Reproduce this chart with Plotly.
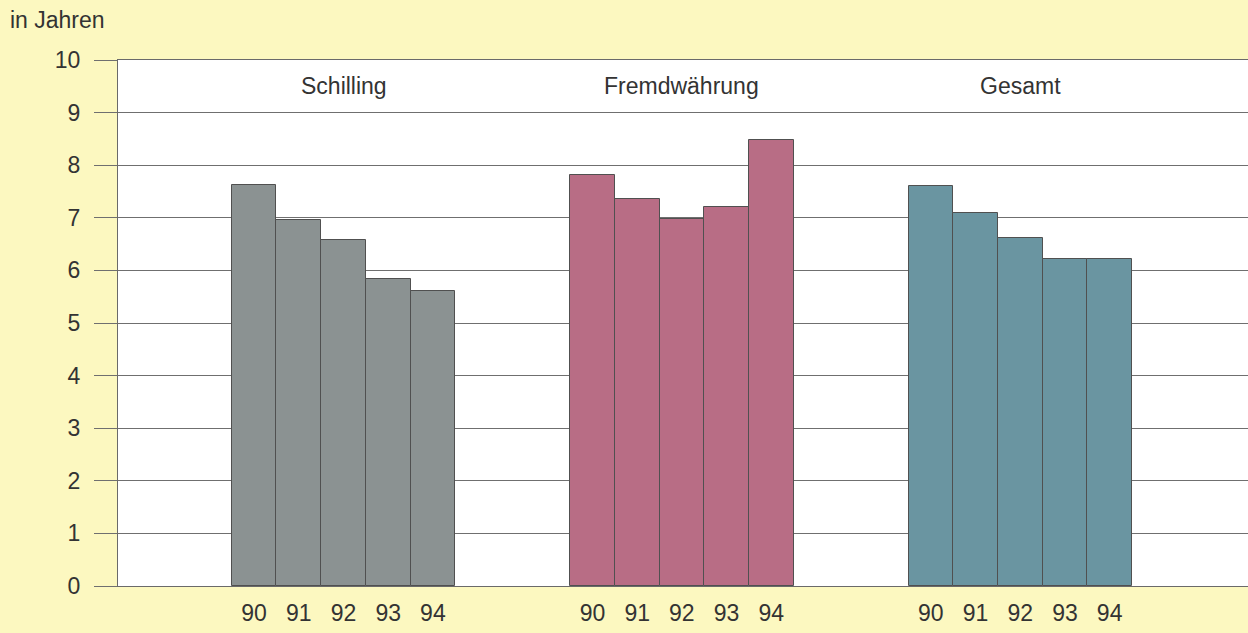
import plotly.graph_objects as go

# Average maturity (in years) by currency, 1990-1994
years = ["90", "91", "92", "93", "94"]
groups = ["Schilling", "Fremdwährung", "Gesamt"]
schilling = [7.62, 6.96, 6.58, 5.84, 5.61]
fremdwaehrung = [7.81, 7.36, 6.98, 7.21, 8.48]
gesamt = [7.61, 7.10, 6.61, 6.22, 6.22]
y_ticks = list(range(0, 11))

series = [schilling, fremdwaehrung, gesamt]
colors = ["#8b9292", "#b86d85", "#6a95a1"]
text_color = "#333333"
font_size = 23

# category axis: one unit = one bar width
first_center = 5.045
stride = 7.57
x_max = 25.28

fig = go.Figure()
tick_pos, tick_txt = [], []
for g, (name, vals, col) in enumerate(zip(groups, series, colors)):
    center = first_center + g * stride
    xs = [center + (i - 2) for i in range(len(years))]
    tick_pos += xs
    tick_txt += years
    fig.add_trace(go.Bar(
        x=xs, y=vals, width=1, name=name,
        marker=dict(color=col, line=dict(color="#505050", width=1)),
        showlegend=False,
    ))
    # group heading inside the plot area
    fig.add_annotation(x=center, y=9.5, text=name, showarrow=False,
                       font=dict(size=font_size, color=text_color),
                       xanchor="center", yanchor="middle")

# unit caption above the value scale
fig.add_annotation(x=-110 / 1130, y=1.0, xref="paper", yref="paper",
                   xanchor="left", yanchor="bottom", yshift=25,
                   text="in Jahren", showarrow=False,
                   font=dict(size=font_size, color=text_color))

fig.update_layout(
    width=1248, height=633,
    margin=dict(l=118, r=0, t=60, b=47),
    paper_bgcolor="#fcf8c0",
    plot_bgcolor="#ffffff",
    font=dict(family="Liberation Sans, Arial, sans-serif", size=font_size,
              color=text_color),
    bargap=0,
    xaxis=dict(range=[0, x_max], tickvals=tick_pos, ticktext=tick_txt,
               showgrid=False, zeroline=False, ticks="",
               showline=True, mirror=True, linecolor="#6a6a6a", linewidth=1,
               ticklabelstandoff=6, tickfont=dict(size=font_size)),
    yaxis=dict(range=[0, 10], tickvals=y_ticks, showgrid=True,
               gridcolor="#6f6f6f", gridwidth=1, zeroline=False,
               showline=True, linecolor="#6a6a6a", linewidth=1,
               ticks="outside", ticklen=23, tickcolor="#6f6f6f",
               ticklabelstandoff=9, tickfont=dict(size=font_size)),
)

fig.write_html("out.html")
